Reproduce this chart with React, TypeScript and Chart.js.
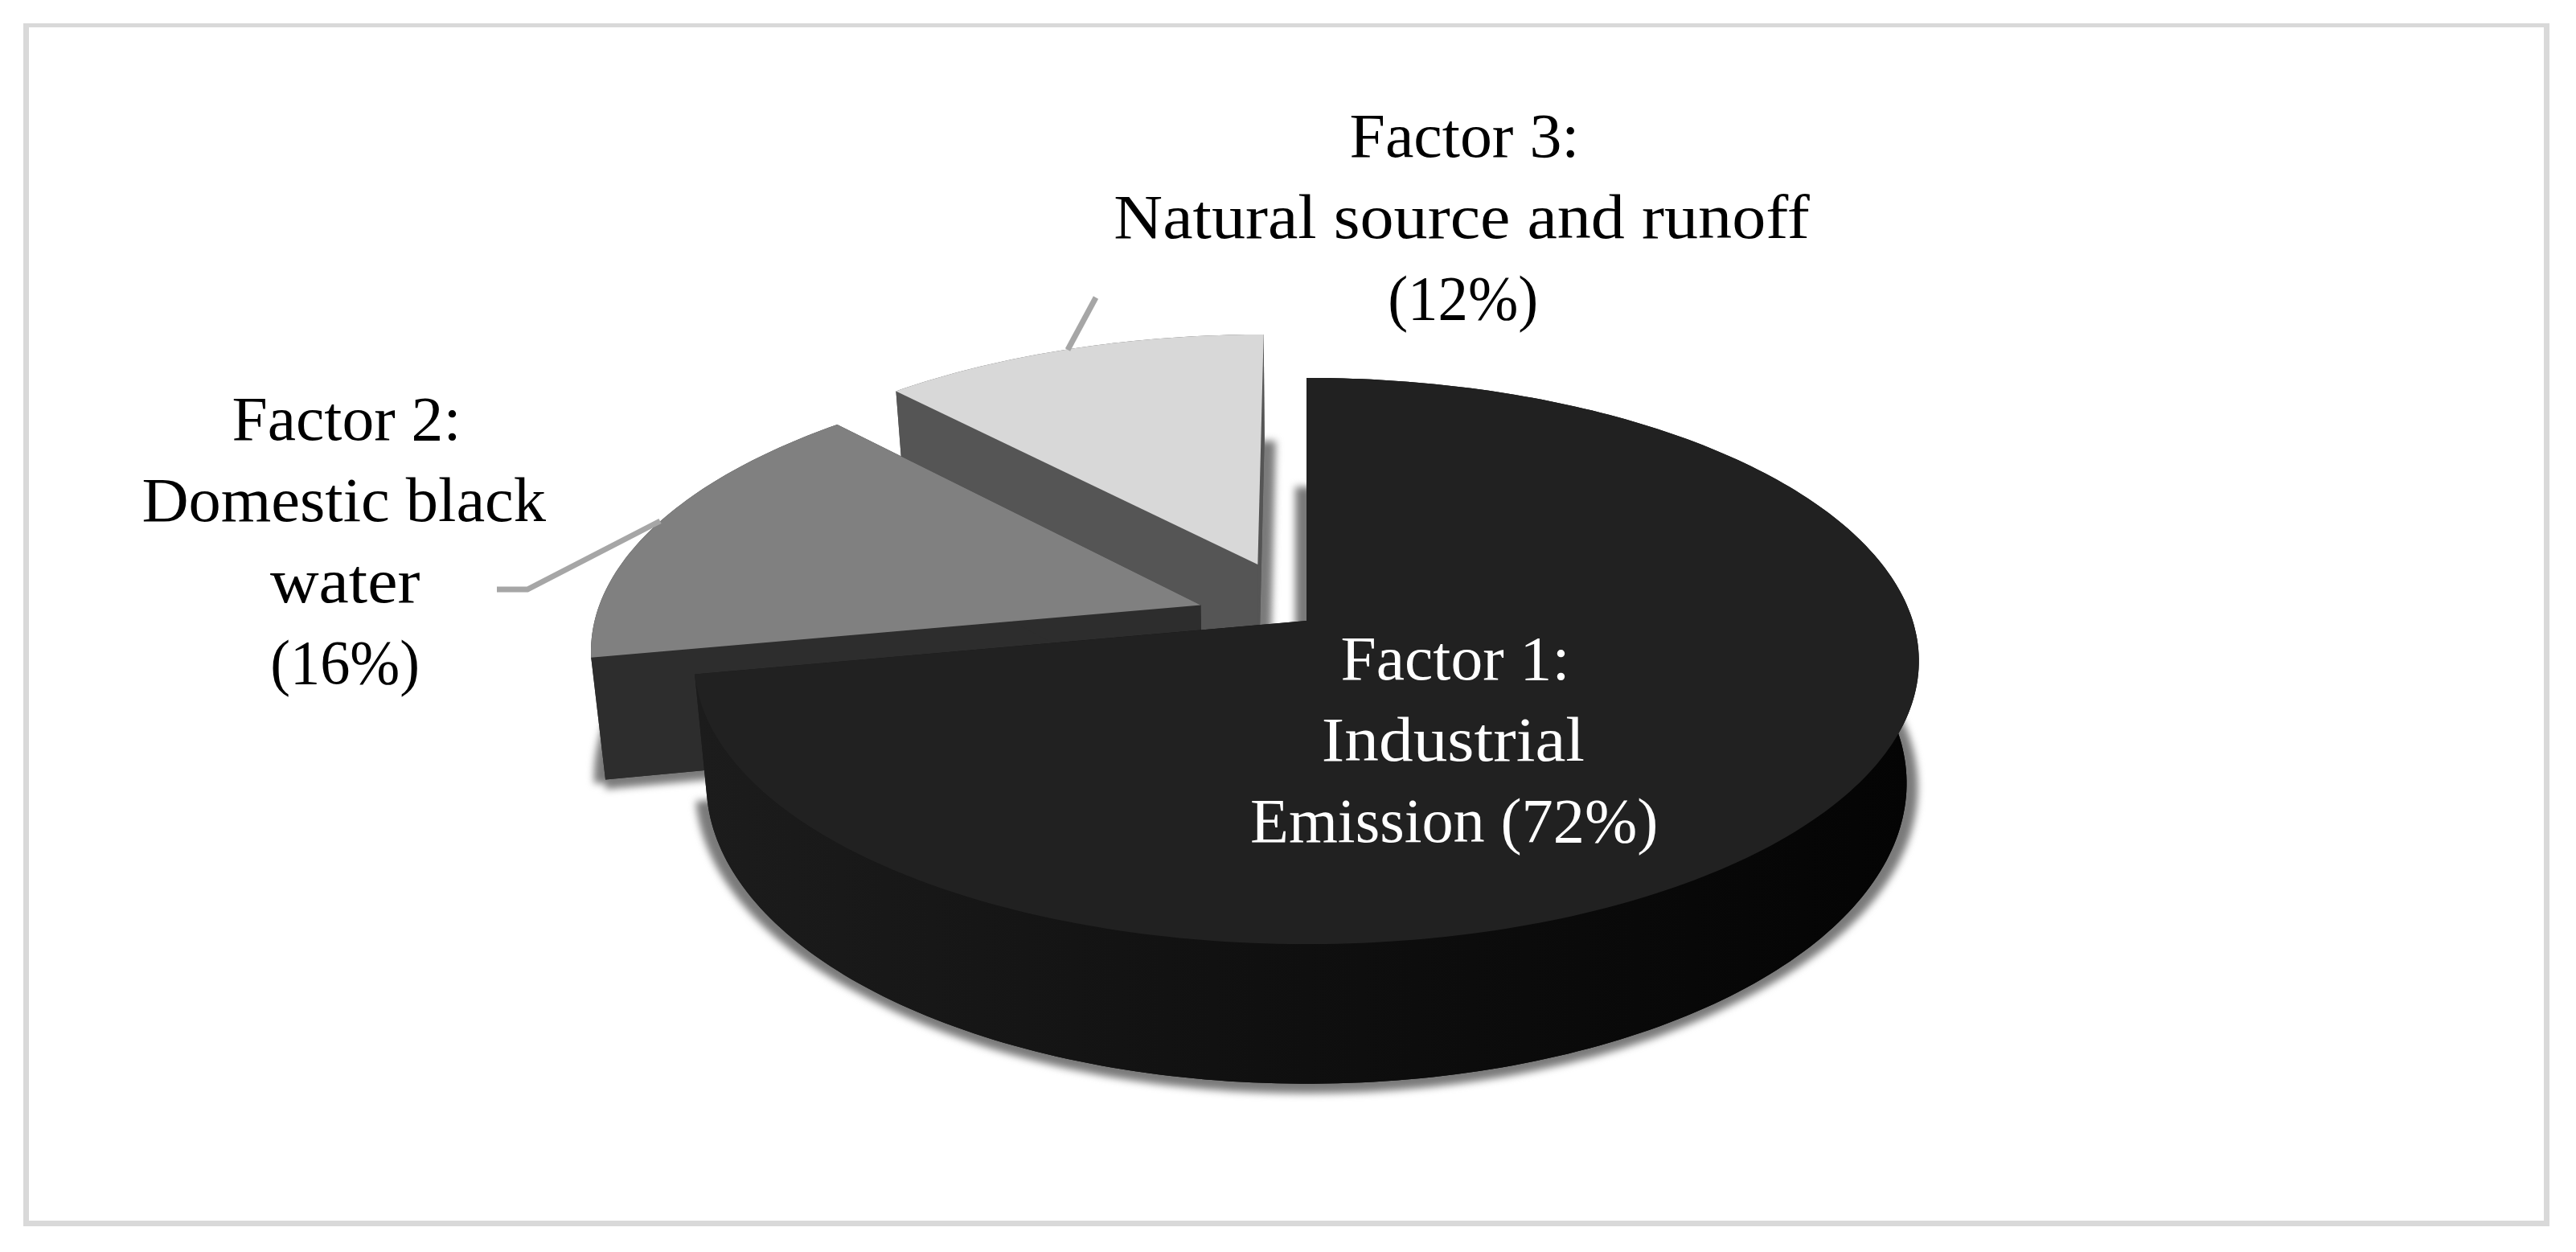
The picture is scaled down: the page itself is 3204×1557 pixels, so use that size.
import React, { useEffect, useRef } from "react";
import { Chart, registerables, ArcElement, PieController } from "chart.js";

// ---- data ----
const categories = ["Factor 1", "Factor 2", "Factor 3"];
const shares = [72, 16, 12];
const explodePercent = [0, 18.5, 22.5];
const factor1Lines = ["Factor 1:", "Industrial", "Emission (72%)"];
const factor2Lines = ["Factor 2:", "Domestic black", "water", "(16%)"];
const factor3Lines = ["Factor 3:", "Natural source and runoff", "(12%)"];

// ---- styles ----
const topColours = ["#212121", "#808080", "#d8d8d8"];
const wallColours = ["#141414", "#2d2d2d", "#555555"];
const mainWallStops = ["#1c1c1c", "#0f0f0f", "#040404"];
const factor1Widths = [277, 324, 502];
const factor2Widths = [277, 501, 186, 180];
const factor3Widths = [278, 864, 181];

// ---- projection of the tilted pie (perspective) ----
const RX = 754;
const RY = 345;
const PERSP = -0.142;
const DEPTH = 149;
const LOW_SCALE = 0.98;
const FONT = '79px "Liberation Serif", serif';
const LINE_H = 101;
const SHADOW_SHIFTS: [number, number][] = [[-14, 5], [14, 5], [0, 12]];

type Pt = [number, number];

class Pie3DArc extends (ArcElement as any) {
  static id = "arc3d";
  project(u: number, v: number, low: boolean): Pt {
    const w = 1 + PERSP * v;
    return [
      this.x + ((low ? LOW_SCALE : 1) * RX * u) / w,
      this.y + (RY * v + (low ? DEPTH : 0)) / w,
    ];
  }
  edge(low: boolean): Pt[] {
    const { startAngle: a0, endAngle: a1, options } = this;
    const mid = (a0 + a1) / 2;
    const d = options.offset / 100;
    const ox = d * Math.cos(mid);
    const oy = d * Math.sin(mid);
    const n = Math.ceil((a1 - a0) / (Math.PI / 180));
    const pts: Pt[] = [];
    for (let i = 0; i <= n; i++) {
      const a = a0 + ((a1 - a0) * i) / n;
      pts.push(this.project(ox + Math.cos(a), oy + Math.sin(a), low));
    }
    return pts;
  }
  apex(low: boolean): Pt {
    const mid = (this.startAngle + this.endAngle) / 2;
    const d = this.options.offset / 100;
    return this.project(d * Math.cos(mid), d * Math.sin(mid), low);
  }
  addPoly(ctx: CanvasRenderingContext2D, pts: Pt[], dx = 0, dy = 0) {
    pts.forEach((p, i) =>
      i ? ctx.lineTo(p[0] + dx, p[1] + dy) : ctx.moveTo(p[0] + dx, p[1] + dy)
    );
    ctx.closePath();
  }
  path(ctx: CanvasRenderingContext2D, pts: Pt[]) {
    ctx.beginPath();
    this.addPoly(ctx, pts);
  }
  drawShadow(ctx: CanvasRenderingContext2D) {
    ctx.save();
    (ctx as any).filter = "blur(5px)";
    ctx.fillStyle = "#7a7a7a";
    const pts: Pt[] = [this.apex(true), ...this.edge(true)];
    ctx.beginPath();
    SHADOW_SHIFTS.forEach(([dx, dy]) => this.addPoly(ctx, pts, dx, dy));
    ctx.fill();
    ctx.restore();
  }
  draw(ctx: CanvasRenderingContext2D) {
    const top = this.edge(false);
    const low = this.edge(true);
    const apT = this.apex(false);
    const apL = this.apex(true);
    let wall: any = wallColours[this.sliceIndex];
    if (this.sliceIndex === 0) {
      const g = ctx.createLinearGradient(this.x - RX, 0, this.x + RX, 0);
      mainWallStops.forEach((c, i) => g.addColorStop(i / (mainWallStops.length - 1), c));
      wall = g;
    }
    ctx.save();
    ctx.fillStyle = wall;
    this.path(ctx, [apL, ...low]);
    ctx.fill();
    this.path(ctx, [...top, ...low.slice().reverse()]);
    ctx.fill();
    this.path(ctx, [apT, top[0], low[0], apL]);
    ctx.fill();
    this.path(ctx, [apT, top[top.length - 1], low[low.length - 1], apL]);
    ctx.fill();
    ctx.fillStyle = this.options.backgroundColor;
    this.path(ctx, [apT, ...top]);
    ctx.fill();
    ctx.restore();
  }
}

class Pie3DController extends (PieController as any) {
  static id = "pie3d";
  static defaults = { ...(PieController as any).defaults, dataElementType: "arc3d" };
  draw() {
    const ctx = this.chart.ctx;
    const arcs = this._cachedMeta.data;
    arcs.forEach((a: any, i: number) => {
      a.sliceIndex = i;
      a.drawShadow(ctx);
    });
    for (let i = arcs.length - 1; i >= 0; i--) arcs[i].draw(ctx);
  }
}

Chart.register(...registerables, Pie3DArc as any, Pie3DController as any);

const framePlugin = {
  id: "frame",
  beforeDraw(chart: any) {
    const { ctx } = chart;
    ctx.save();
    ctx.fillStyle = "#ffffff";
    ctx.fillRect(0, 0, chart.width, chart.height);
    ctx.fillStyle = "#d9d9d9";
    ctx.fillRect(29, 29, 3142, 5);
    ctx.fillRect(29, 29, 7, 1496);
    ctx.fillRect(3164, 29, 7, 1496);
    ctx.fillRect(29, 1518, 3142, 7);
    ctx.restore();
  },
};

function block(
  ctx: CanvasRenderingContext2D,
  lines: string[],
  widths: number[],
  cx: number,
  y0: number,
  colour: string
) {
  ctx.fillStyle = colour;
  ctx.font = FONT;
  ctx.textAlign = "left";
  ctx.textBaseline = "alphabetic";
  lines.forEach((t, i) => {
    const m = ctx.measureText(t);
    const ink = m.actualBoundingBoxLeft + m.actualBoundingBoxRight;
    const sx = widths[i] / ink;
    ctx.save();
    ctx.translate(cx - widths[i] / 2 + m.actualBoundingBoxLeft * sx, y0 + i * LINE_H);
    ctx.scale(sx, 1);
    ctx.fillText(t, 0, 0);
    ctx.restore();
  });
}

const labelPlugin = {
  id: "labels3d",
  afterDatasetsDraw(chart: any) {
    const { ctx } = chart;
    ctx.save();
    ctx.strokeStyle = "#a6a6a6";
    ctx.lineWidth = 7;
    ctx.beginPath();
    ctx.moveTo(1328, 435);
    ctx.lineTo(1363, 370);
    ctx.stroke();
    ctx.beginPath();
    ctx.moveTo(821, 648);
    ctx.lineTo(656, 733);
    ctx.lineTo(618, 733);
    ctx.stroke();
    block(ctx, factor1Lines, factor1Widths, 1808, 845, "#ffffff");
    block(ctx, factor2Lines, factor2Widths, 429, 547, "#000000");
    block(ctx, factor3Lines, factor3Widths, 1819.5, 195, "#000000");
    ctx.restore();
  },
};

export default function App() {
  const ref = useRef<HTMLCanvasElement>(null);
  useEffect(() => {
    document.body.style.margin = "0";
    const chart = new Chart(ref.current!, {
      type: "pie3d" as any,
      data: {
        labels: categories,
        datasets: [
          {
            data: shares,
            backgroundColor: topColours,
            borderColor: wallColours,
            borderWidth: 0,
            offset: explodePercent,
          } as any,
        ],
      },
      options: {
        animation: false,
        responsive: false,
        layout: { padding: { left: 46, bottom: 13 } },
        plugins: { legend: { display: false }, tooltip: { enabled: false } },
      } as any,
      plugins: [framePlugin, labelPlugin],
    });
    return () => chart.destroy();
  }, []);
  return (
    <div style={{ position: "absolute", left: 0, top: 0, width: 3204, height: 1557 }}>
      <canvas ref={ref} width={3204} height={1557} style={{ display: "block" }} />
    </div>
  );
}
